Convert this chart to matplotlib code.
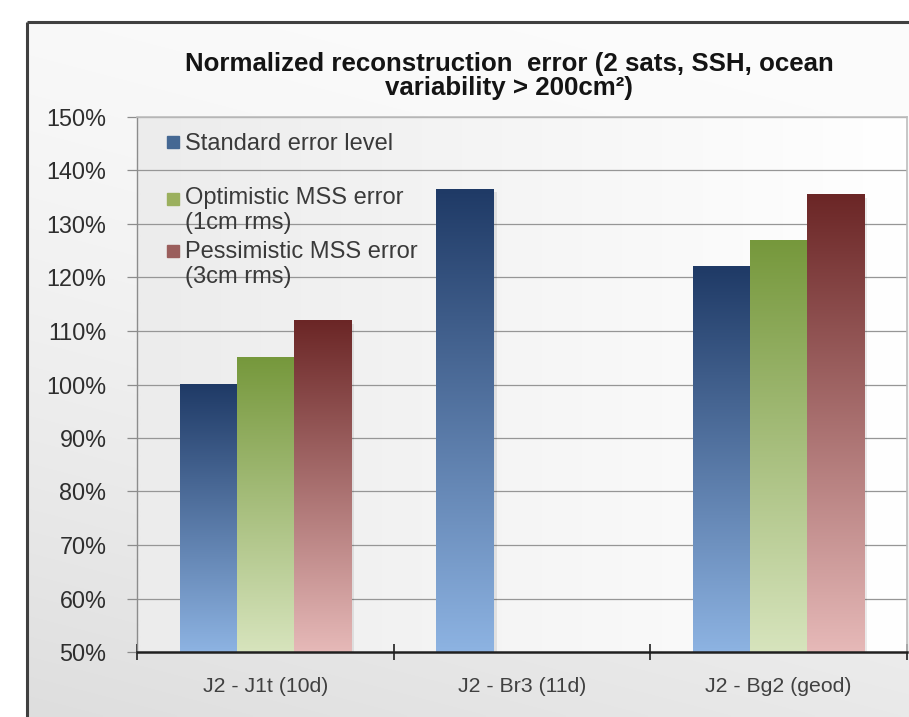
import numpy as np
import matplotlib.pyplot as plt
from matplotlib.colors import LinearSegmentedColormap
from matplotlib.lines import Line2D

categories = ['J2 - J1t (10d)', 'J2 - Br3 (11d)', 'J2 - Bg2 (geod)']
series_names = ['Standard error level',
                'Optimistic MSS error\n(1cm rms)',
                'Pessimistic MSS error\n(3cm rms)']
standard = [100, 136.5, 122]
optimistic = [105, None, 127]
pessimistic = [112, None, 135.5]
yticks = [50, 60, 70, 80, 90, 100, 110, 120, 130, 140, 150]
title = 'Normalized reconstruction  error (2 sats, SSH, ocean\nvariability > 200cm\u00b2)'

# top colour / bottom colour of each series gradient
top_cols = ['#1f3a66', '#76983c', '#6b2626']
bot_cols = ['#8db3e2', '#d7e4bd', '#e6b9b8']
mark_cols = ['#456893', '#9bb05e', '#9a5e5c']

FONT = ['Liberation Sans', 'DejaVu Sans']
W, H = 909, 717
fig = plt.figure(figsize=(W / 100, H / 100), dpi=100)

# chart area background with border
bg = fig.add_axes([0, 0, 1, 1], zorder=-10)
bg.set_xlim(0, W)
bg.set_ylim(H, 0)
bg.axis('off')
gx = np.linspace(0, 1, 200)
gy = np.linspace(0, 1, 200)
GX, GY = np.meshgrid(gx, gy)
shade = 252 - 30 * np.clip(0.75 * GY + 0.25 * (1 - GX), 0, 1) ** 1.6
img = np.dstack([shade, shade, shade]) / 255
bg.imshow(img, extent=(27, W, H, 22), aspect='auto', interpolation='bilinear')
bg.plot([27, 27], [22, H], color='#404040', lw=2.2, solid_capstyle='butt')
bg.plot([27, W], [22, 22], color='#404040', lw=2.2, solid_capstyle='butt')

ax = fig.add_axes([137 / W, 1 - 652 / H, (907 - 137) / W, (652 - 117) / H])
ax.set_xlim(-0.5, 2.5)
ax.set_ylim(50, 150)

# plot area fill
pa = np.linspace(236, 255, 100)
pimg = np.dstack([pa, pa, pa]).reshape(1, 100, 3) / 255
ax.imshow(pimg, extent=(-0.5, 2.5, 50, 150), aspect='auto', zorder=0,
          interpolation='bilinear')

for y in yticks[1:]:
    ax.axhline(y, color='#969696', lw=0.9, zorder=1)

bw = 1 / 4.5
all_series = [standard, optimistic, pessimistic]
for si, vals in enumerate(all_series):
    cmap = LinearSegmentedColormap.from_list('g%d' % si, [bot_cols[si], top_cols[si]])
    for ci, v in enumerate(vals):
        if v is None:
            continue
        x0 = ci + (si - 1) * bw - bw / 2
        grad = np.linspace(0, 1, 256).reshape(-1, 1)
        ax.imshow(grad, cmap=cmap, origin='lower', aspect='auto',
                  extent=(x0, x0 + bw, 50, v), zorder=3, interpolation='bilinear')
        ax.add_patch(plt.Rectangle((x0 + 0.012, 50), bw, v - 50 - 0.6,
                                   color='black', alpha=0.08, zorder=2, lw=0))

ax.set_xlim(-0.5, 2.5)
ax.set_ylim(50, 150)

ax.set_yticks(yticks)
ax.set_yticklabels(['%d%%' % t for t in yticks], fontsize=16.8, color='#2e2e2e',
                   family=FONT)
ax.tick_params(axis='y', length=7, width=0.9, color='#8c8c8c', pad=15)

ax.set_xticks([0.5, 1.5, 2.5, -0.5])
ax.set_xticklabels([])
ax.set_xticks([0, 1, 2], minor=True)
ax.set_xticklabels(categories, minor=True, fontsize=15.3, color='#404040',
                   family=FONT)
ax.tick_params(axis='x', which='major', direction='inout', length=12, width=1.2, color='#202020')
ax.tick_params(axis='x', which='minor', length=0, pad=18)

for s in ['top', 'right']:
    ax.spines[s].set_color('#bdbdbd')
    ax.spines[s].set_linewidth(1.2)
ax.spines['left'].set_color('#8c8c8c')
ax.spines['left'].set_linewidth(1.0)
ax.spines['bottom'].set_color('#202020')
ax.spines['bottom'].set_linewidth(1.8)
ax.spines['bottom'].set_zorder(5)

fig.text(509 / W, 1 - 76 / H, title, ha='center', va='center', fontsize=18.6,
         fontweight='bold', color='#141414', linespacing=1.05, family=FONT)

# legend, Excel style
mark_y = [142, 199, 251]
text_top = [133, 187, 241]
for i, name in enumerate(series_names):
    fig.add_artist(Line2D([173 / W], [1 - mark_y[i] / H], marker='s', markersize=8.5,
                          color=mark_cols[i], linestyle='none'))
    fig.text(185 / W, 1 - text_top[i] / H, name, ha='left', va='top',
             fontsize=17, color='#3a3a3a', linespacing=1.2, family=FONT)

fig.savefig('out.png', dpi=100)
